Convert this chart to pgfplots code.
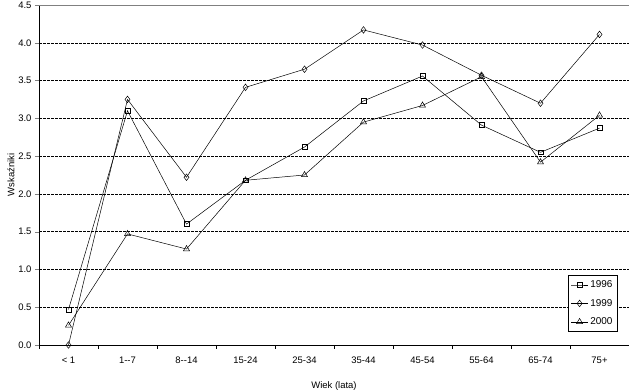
\documentclass[border=0pt]{standalone}
\usepackage{fontspec}
\setmainfont{Liberation Sans}
\usepackage{pgfplots}
\pgfplotsset{compat=1.18}
\begin{document}
\begin{tikzpicture}[x=1bp,y=1bp]
\begin{axis}[
  name=ax,
  scale only axis,
  width=590bp, height=340bp,
  xmin=-0.5, xmax=9.5, ymin=0, ymax=4.5,
  xtick={0,...,9},
  xticklabels={{< 1},{1-{}-7},{8-{}-14},{15-24},{25-34},{35-44},{45-54},{55-64},{65-74},{75+}},
  major x tick style={draw=none},
  minor xtick={-0.5,0.5,...,9.5},
  minor x tick style={black, line width=0.6pt},
  minor tick length=4bp,
  ytick={0,0.5,...,4.5},
  major tick length=4bp,
  tick align=outside,
  ytick pos=left, xtick pos=bottom,
  ymajorgrids,
  major y grid style={black, dash pattern=on 2.5bp off 1.5bp, line width=0.5pt},
  axis line style={line width=0.6pt},
  axis x line*=bottom, axis y line*=left,
  y tick label style={/pgf/number format/.cd, fixed, fixed zerofill, precision=1, assume math mode=true},
  tick label style={font=\fontsize{9.5}{11}\selectfont},
  xticklabel style={yshift=-4bp},
  label style={font=\fontsize{9.5}{11}\selectfont},
  xlabel={Wiek (lata)},
  xlabel style={yshift=-12bp},
  ylabel={Wskaźniki},
  ylabel style={yshift=-3bp},
  legend style={at={(0.981,0.04)}, anchor=south east, draw=black, line width=0.6pt, font=\fontsize{10}{12}\selectfont, row sep=6bp, inner sep=3bp},
  legend cell align=left,
  legend image post style={line width=0.5pt},
  every axis plot/.append style={black, line width=0.5pt, mark options={solid, fill=white, line width=0.5pt}},
]
\draw[gray, line width=0.8pt] (rel axis cs:0,1) -- (rel axis cs:1,1) -- (rel axis cs:1,0);
\addplot[mark=square, mark size=2.4bp] coordinates {(0,0.47) (1,3.10) (2,1.60) (3,2.18) (4,2.62) (5,3.23) (6,3.56) (7,2.91) (8,2.55) (9,2.87)};
\addplot[mark=diamond, mark size=3.3bp] coordinates {(0,0.00) (1,3.25) (2,2.22) (3,3.41) (4,3.65) (5,4.17) (6,3.97) (7,3.57) (8,3.20) (9,4.11)};
\addplot[mark=triangle, mark size=3.5bp] coordinates {(0,0.26) (1,1.47) (2,1.27) (3,2.18) (4,2.25) (5,2.95) (6,3.17) (7,3.55) (8,2.42) (9,3.04)};
\legend{1996,1999,2000}
\end{axis}
\pgfresetboundingbox
\path ([xshift=-39bp,yshift=-46bp]ax.south west) rectangle ([yshift=5bp]ax.north east);
\end{tikzpicture}
\end{document}
